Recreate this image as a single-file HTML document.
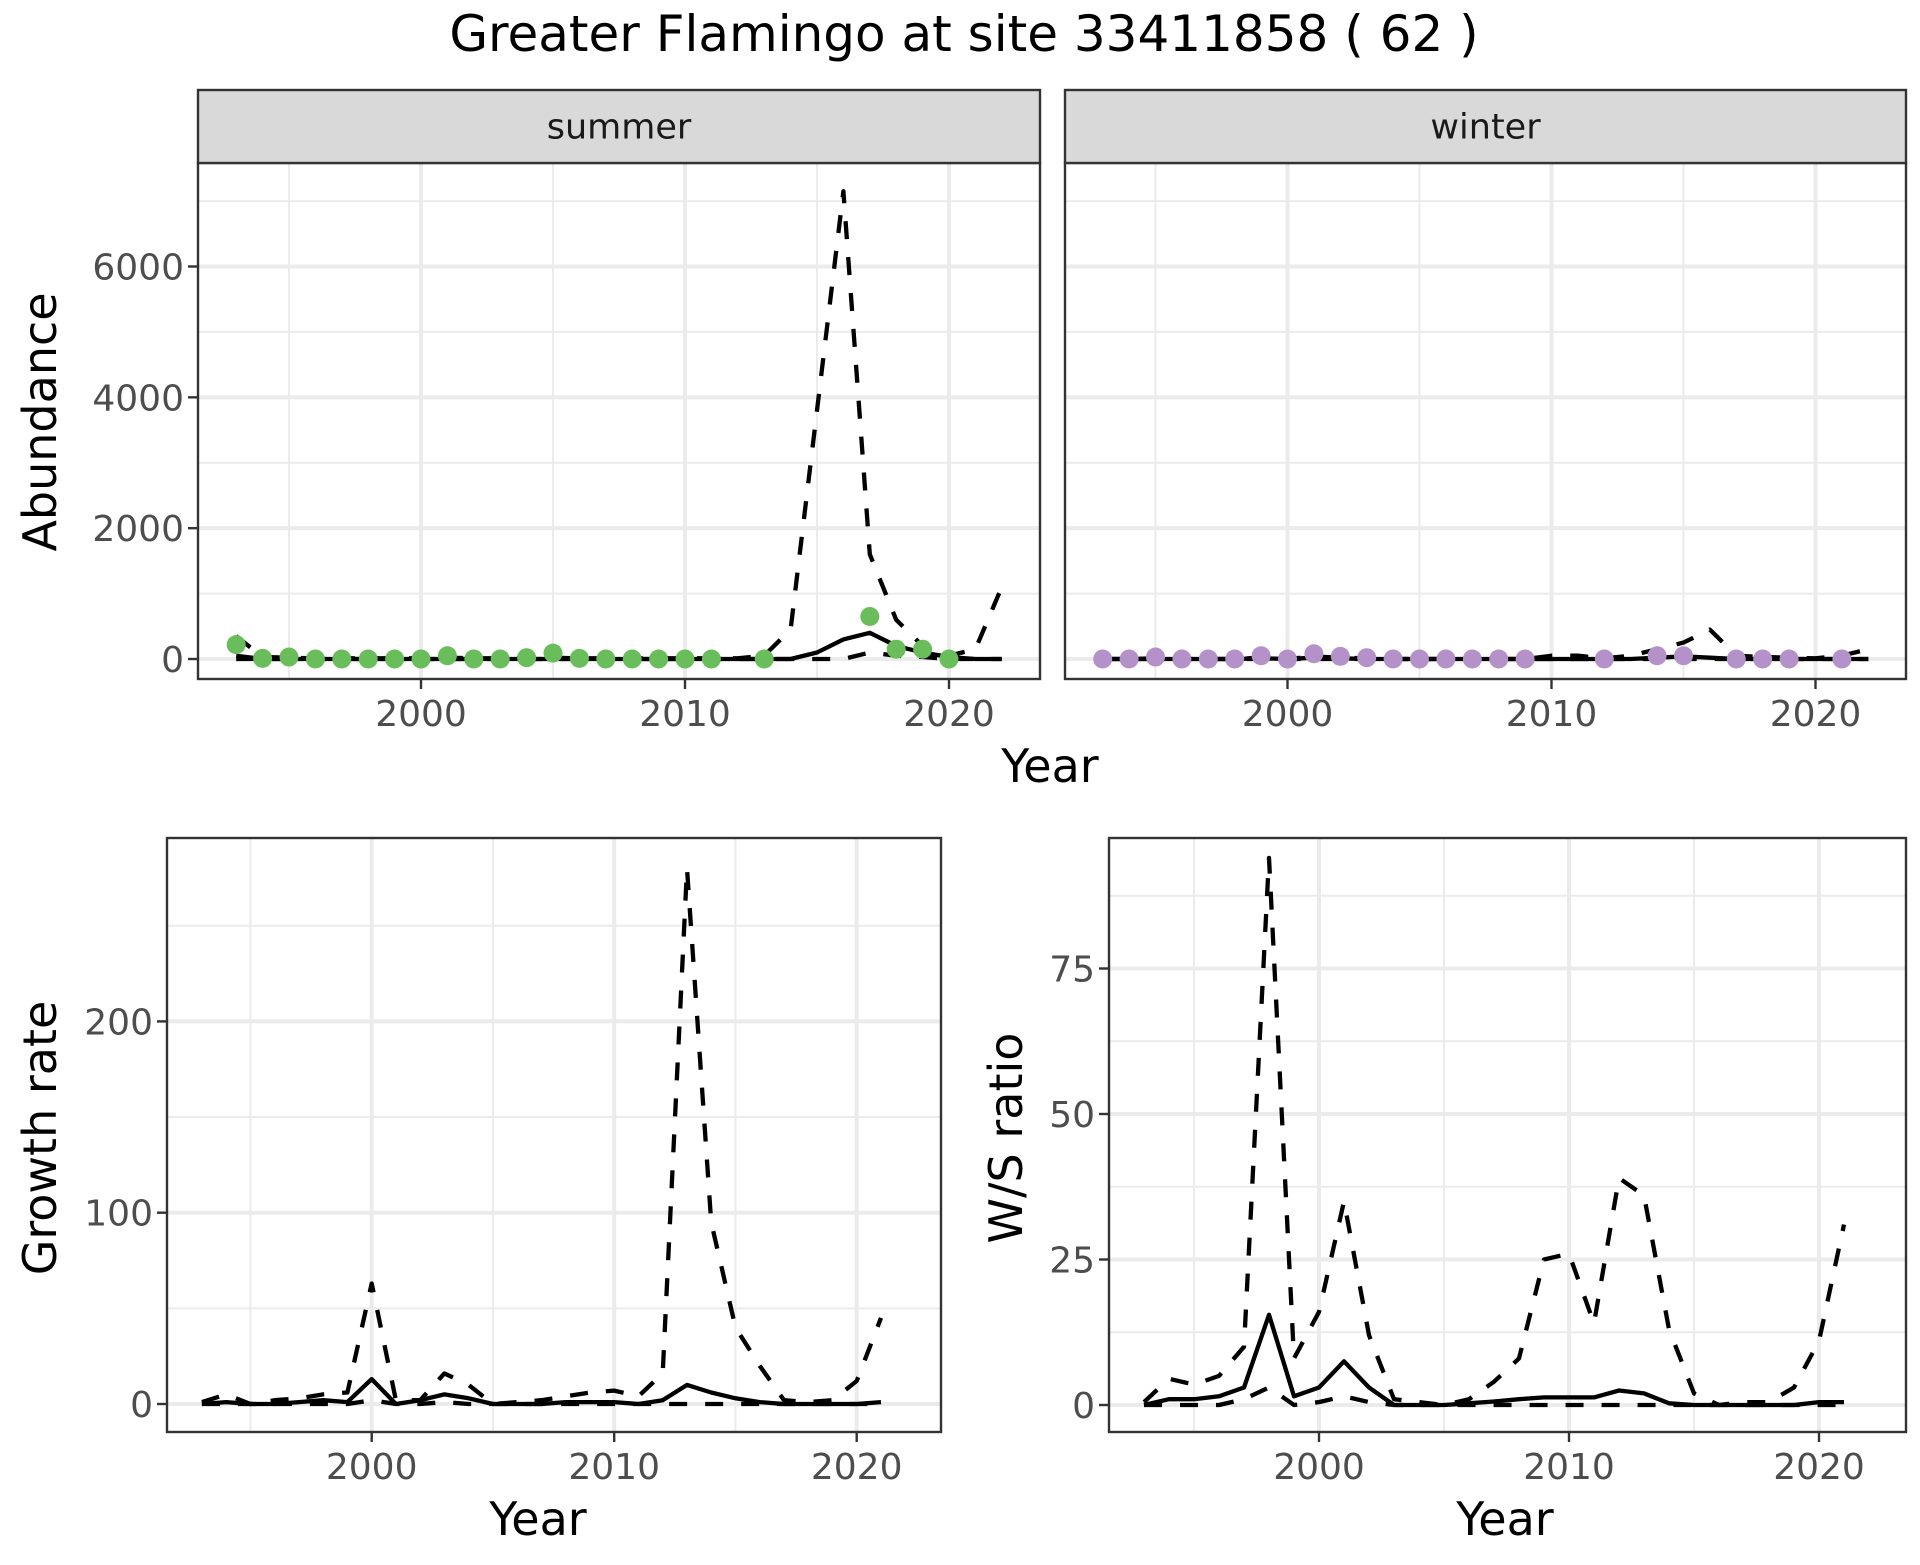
<!DOCTYPE html>
<html><head><meta charset="utf-8"><style>
html,body{margin:0;padding:0;background:#fff;}
svg text{font-family:"DejaVu Sans","Liberation Sans",sans-serif;}
</style></head><body>
<svg id="chart" width="1920" height="1560" viewBox="0 0 1920 1560" xmlns="http://www.w3.org/2000/svg">
<rect width="1920" height="1560" fill="#fff"/>
<text x="964" y="51" font-size="50" text-anchor="middle" fill="#000">Greater Flamingo at site 33411858 ( 62 )</text>
</svg>
<script>
// ---------- data ----------
const yearsAll = [1993,1994,1995,1996,1997,1998,1999,2000,2001,2002,2003,2004,2005,2006,2007,2008,2009,2010,2011,2012,2013,2014,2015,2016,2017,2018,2019,2020,2021,2022];
const summerPtYears = [1993,1994,1995,1996,1997,1998,1999,2000,2001,2002,2003,2004,2005,2006,2007,2008,2009,2010,2011,2013,2017,2018,2019,2020];
const summerPtVals = [220,10,30,0,0,0,0,0,50,0,0,20,90,10,0,0,0,0,0,0,650,150,150,0];
const summerFit = [50,0,0,0,0,0,0,0,0,0,0,0,0,0,0,0,0,0,0,0,0,0,100,300,400,200,100,30,0,0];
const summerHi = [350,30,20,10,10,10,10,10,20,10,10,10,20,10,10,10,10,10,10,10,50,450,3800,7150,1600,600,200,50,150,1100];
const summerLo = [0,0,0,0,0,0,0,0,0,0,0,0,0,0,0,0,0,0,0,0,0,0,0,0,100,50,30,0,0,0];
const winterPtYears = [1993,1994,1995,1996,1997,1998,1999,2000,2001,2002,2003,2004,2005,2006,2007,2008,2009,2012,2014,2015,2017,2018,2019,2021];
const winterPtVals = [0,0,30,0,0,0,50,0,80,40,20,0,0,0,0,0,0,0,50,50,0,0,0,0];
const winterFit = [0,0,0,0,0,0,10,0,20,10,0,0,0,0,0,0,0,0,0,0,0,20,40,20,0,0,0,0,0,0];
const winterHi = [0,0,10,0,0,0,20,0,40,20,10,0,0,0,0,0,0,50,50,10,50,150,250,450,50,30,20,10,50,150];
const winterLo = [0,0,0,0,0,0,0,0,0,0,0,0,0,0,0,0,0,0,0,0,0,0,0,0,0,0,0,0,0,0];
const years2 = [1993,1994,1995,1996,1997,1998,1999,2000,2001,2002,2003,2004,2005,2006,2007,2008,2009,2010,2011,2012,2013,2014,2015,2016,2017,2018,2019,2020,2021];
const growthFit = [0,1,0,0,1,2,1,13,0,2,5,3,0,0,0,1,1,1,0,2,10,6,3,1,0,0,0,0,1];
const growthHi = [1,5,0,2,3,5,6,63,2,2,16,10,0,1,2,4,6,7,4,16,280,95,40,20,2,1,2,12,45];
const growthLo = [0,0,0,0,0,0,0,2,0,0,1,0,0,0,0,0,0,0,0,0,0,0,0,0,0,0,0,0,0];
const ratioFit = [0,1,1,1.5,3,15.5,1.5,3,7.5,3,0,0,0,0.3,0.6,1,1.3,1.3,1.3,2.5,2,0.3,0,0,0,0,0,0.5,0.5];
const ratioHi = [0.5,4.5,3.5,5,10,94,8,16,35,12,1,0.5,0,1,4,8,25,26,14,39,36,13,2,0,0.5,0.5,3,11,31];
const ratioLo = [0,0,0,0,1,3,0,0.5,1.5,0.5,0,0,0,0,0,0,0,0,0,0,0,0,0,0,0,0,0,0,0];
const abundTicks = [0,2000,4000,6000];
const abundMinor = [1000,3000,5000,7000];
const growthTicks = [0,100,200];
const growthMinor = [50,150,250];
const ratioTicks = [0,25,50,75];
const ratioMinor = [12.5,37.5,62.5,87.5];
const xTicks = [2000,2010,2020];
const xMinor = [1995,2005,2015];

// ---------- drawing ----------
const NS = 'http://www.w3.org/2000/svg';
const svg = document.getElementById('chart');
function mk(tag, attrs, parent){
  const e = document.createElementNS(NS, tag);
  for (const k in attrs) e.setAttribute(k, attrs[k]);
  (parent||svg).appendChild(e);
  return e;
}
function panel(p){
  const g = mk('g', {});
  
  
  const sx = v => p.x0px + (v - p.x0v) * p.xs;
  const sy = v => p.y0px - (v - p.y0v) * p.ys;
  const clipId = p.name + '-clip';
  const cp = mk('clipPath', {id: clipId}, g);
  mk('rect', {x:p.L, y:p.T, width:p.R-p.L, height:p.B-p.T}, cp);
  mk('rect', {x:p.L, y:p.T, width:p.R-p.L, height:p.B-p.T, fill:'#fff'}, g);
  p.yMinor.forEach(v => { const l = mk('line', {x1:p.L, x2:p.R, y1:sy(v), y2:sy(v), stroke:'#ebebeb', 'stroke-width':2}, g);
      });
  xMinor.forEach(v => { const l = mk('line', {x1:sx(v), x2:sx(v), y1:p.T, y2:p.B, stroke:'#ebebeb', 'stroke-width':2}, g);
      });
  p.yTicks.forEach(v => { const l = mk('line', {x1:p.L, x2:p.R, y1:sy(v), y2:sy(v), stroke:'#ebebeb', 'stroke-width':4}, g);
      });
  xTicks.forEach(v => { const l = mk('line', {x1:sx(v), x2:sx(v), y1:p.T, y2:p.B, stroke:'#ebebeb', 'stroke-width':4}, g);
      });
  const series = [[p.lo,'18,18',4.3,'lower-bound-line'],[p.hi,'18,18',4.3,'upper-bound-line'],[p.fit,null,4.3,'fit-line']];
  series.forEach(([vals,dash,w,nm]) => {
    const d = vals.map((v,i) => (i?'L':'M') + sx(p.xs_years[i]).toFixed(1) + ',' + sy(v).toFixed(1)).join(' ');
    const a = {d:d, fill:'none', stroke:'#000', 'stroke-width':w, 'stroke-linejoin':'round', 'clip-path':'url(#'+clipId+')'};
    if (dash) a['stroke-dasharray'] = dash;
    const path = mk('path', a, g);
    
    
  });
  if (p.ptYears) p.ptYears.forEach((yr,i) => {
    const c = mk('circle', {cx:sx(yr), cy:sy(p.ptVals[i]), r:9.5, fill:p.color}, g);
    
    
  });
  mk('rect', {x:p.L, y:p.T, width:p.R-p.L, height:p.B-p.T, fill:'none', stroke:'#333', 'stroke-width':2.4}, g);
  if (p.strip){
    const s = mk('rect', {x:p.L, y:p.stripT, width:p.R-p.L, height:p.T-p.stripT, fill:'#d9d9d9', stroke:'#333', 'stroke-width':2.4}, g);
    
    
    const st = mk('text', {x:(p.L+p.R)/2, y:(p.stripT+p.T)/2+12, 'font-size':35, 'text-anchor':'middle', fill:'#1a1a1a'}, g);
    st.textContent = p.strip;
    
    
  }
  xTicks.forEach(v => {
    mk('line', {x1:sx(v), x2:sx(v), y1:p.B, y2:p.B+10, stroke:'#333', 'stroke-width':2.4}, g);
    const t = mk('text', {x:sx(v), y:p.B+47, 'font-size':36, 'text-anchor':'middle', fill:'#4d4d4d'}, g);
    t.textContent = v;
    
    
  });
  if (p.showY) p.yTicks.forEach(v => {
    mk('line', {x1:p.L-10, x2:p.L, y1:sy(v), y2:sy(v), stroke:'#333', 'stroke-width':2.4}, g);
    const t = mk('text', {x:p.L-14, y:sy(v)+13, 'font-size':36, 'text-anchor':'end', fill:'#4d4d4d'}, g);
    t.textContent = v;
    
    
  });
}
function title(txt, x, y, rot, name){
  const t = mk('text', {x:x, y:y, 'font-size':46, 'text-anchor':'middle', fill:'#000'});
  if (rot) t.setAttribute('transform', 'rotate(-90 '+x+' '+y+')');
  t.textContent = txt;
  
  
}
panel({name:'summer-panel', L:198, R:1040, T:163, B:679, stripT:90, strip:'summer', showY:true,
  x0v:2000, x0px:421, xs:26.4, y0v:0, y0px:659, ys:(659-266.5)/6000,
  yTicks:abundTicks, yMinor:abundMinor, xs_years:yearsAll, fit:summerFit, hi:summerHi, lo:summerLo,
  ptYears:summerPtYears, ptVals:summerPtVals, color:'#6abd5b'});
panel({name:'winter-panel', L:1065, R:1906, T:163, B:679, stripT:90, strip:'winter', showY:false,
  x0v:2000, x0px:1287.5, xs:26.4, y0v:0, y0px:659, ys:(659-266.5)/6000,
  yTicks:abundTicks, yMinor:abundMinor, xs_years:yearsAll, fit:winterFit, hi:winterHi, lo:winterLo,
  ptYears:winterPtYears, ptVals:winterPtVals, color:'#b491c8'});
panel({name:'growth-rate-panel', L:167, R:941, T:838, B:1432, showY:true,
  x0v:2000, x0px:371.7, xs:24.25, y0v:0, y0px:1404, ys:1.913,
  yTicks:growthTicks, yMinor:growthMinor, xs_years:years2, fit:growthFit, hi:growthHi, lo:growthLo});
panel({name:'ws-ratio-panel', L:1109, R:1906, T:838, B:1432, showY:true,
  x0v:2000, x0px:1319, xs:25.0, y0v:0, y0px:1405, ys:5.82,
  yTicks:ratioTicks, yMinor:ratioMinor, xs_years:years2, fit:ratioFit, hi:ratioHi, lo:ratioLo});
title('Year', 1050, 782, false, 'x-axis-title-top');
title('Year', 538, 1535, false, 'x-axis-title-growth');
title('Year', 1505, 1535, false, 'x-axis-title-ratio');
title('Abundance', 56, 422, true, 'y-axis-title-abundance');
title('Growth rate', 56, 1138, true, 'y-axis-title-growth');
title('W/S ratio', 1022, 1138, true, 'y-axis-title-ratio');
</script>
</body></html>
